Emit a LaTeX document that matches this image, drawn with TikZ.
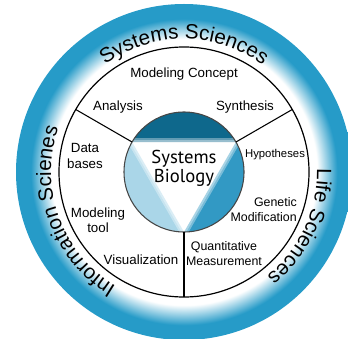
\documentclass[tikz,border=0pt]{standalone}
\usepackage{fontspec}
\setmainfont{Liberation Sans}
\newfontfamily\biofont{PT Sans}
\usetikzlibrary{decorations.text}

\definecolor{ringblue}{RGB}{38,155,200}
\pgfdeclareradialshading{ringshade}{\pgfpointorigin}{color(0bp)=(white); color(19.8bp)=(white); color(22.8bp)=(ringblue); color(25bp)=(ringblue); color(50bp)=(ringblue)}

\tikzset{
  ringlabel/.style={decorate, decoration={text along path, text align=center, text={|\fontsize{15.5}{18}\selectfont|#1}}},
  lbl/.style={inner sep=0.75pt, font=\fontsize{10}{11.5}\selectfont, align=center},
  smalllbl/.style={lbl, font=\fontsize{9.3}{11.2}\selectfont},
  biolbl/.style={inner sep=0.75pt, font=\biofont\fontsize{14}{14.5}\selectfont, align=center},
  soften/.style={draw=white, draw opacity=0.35, line join=round}
}

\begin{document}
\begin{tikzpicture}[x=0.75pt,y=0.75pt,yscale=-1,xscale=1]
\useasboundingbox (0,0) rectangle (348,338);
\clip (0,0) rectangle (348,338);

%Shape: Ring
\shade[shading=ringshade] (184,172) circle (168);
%Shape: Circle
\draw[fill=white, line width=0.9] (184,172) circle (125);

\begin{scope}[shift={(184,172)}, yscale=-1]
%Shape: Segments of the core
\fill[fill={rgb, 255:red, 14; green, 104; blue, 140 }] (150:60) arc[start angle=150, end angle=30, radius=60] -- cycle;
\fill[fill={rgb, 255:red, 170; green, 214; blue, 232 }] (150:60) arc[start angle=150, end angle=270, radius=60] -- cycle;
\fill[fill={rgb, 255:red, 50; green, 153; blue, 196 }] (270:60) arc[start angle=270, end angle=390, radius=60] -- cycle;

\coordinate (ulin) at (150:60);
\coordinate (ulout) at (150:125);
\coordinate (urin) at (30:60);
\coordinate (urout) at (30:125);
\coordinate (bin) at (270:60);
\coordinate (bout) at (270:125);

%Soft edges of the triangle
\draw[soften, line width=6] (ulin) -- (urin) -- (bin) -- cycle;
\draw[soften, line width=3] (ulin) -- (urin) -- (bin) -- cycle;
%Shape: Circle
\draw[draw={rgb, 255:red, 70; green, 70; blue, 70 }, line width=0.8] (0,0) circle (60);

%Straight Lines
\draw[line width=0.8] (ulin) -- (ulout);
\draw[line width=0.8] (urin) -- (urout);
\draw[line width=0.8] (bin) -- (bout);

% Ring texts
\path[ringlabel={Systems Sciences}] (160:133) arc[start angle=160, end angle=20, radius=133];
\path[ringlabel={Life Sciences}] (40:133) arc[start angle=40, end angle=-90, radius=133];
\path[ringlabel={Information Scienes}] (270:133) arc[start angle=270, end angle=130, radius=133];
\end{scope}

% Text Node
\node[biolbl] (bio) at (184,168) {Systems\\Biology};
% Text Node
\node[lbl] (concept) at (184,74) {Modeling Concept};
% Text Node
\node[lbl] (analysis) at (118,107) {Analysis};
% Text Node
\node[lbl] (synthesis) at (245,107) {Synthesis};
% Text Node
\node[lbl] (databases) at (85,156) {Data\\bases};
% Text Node
\node[lbl, font=\fontsize{8.5}{10}\selectfont] (hypotheses) at (275,155) {Hypotheses};
% Text Node
\node[lbl] (tool) at (98,220) {Modeling\\tool};
% Text Node
\node[smalllbl, align=right, anchor=east] (genetic) at (298,210) {Genetic\\Modification};
% Text Node
\node[lbl] (visual) at (141,260) {Visualization};
% Text Node
\node[smalllbl] (quant) at (224,254) {Quantitative\\Measurement};

\end{tikzpicture}
\end{document}
